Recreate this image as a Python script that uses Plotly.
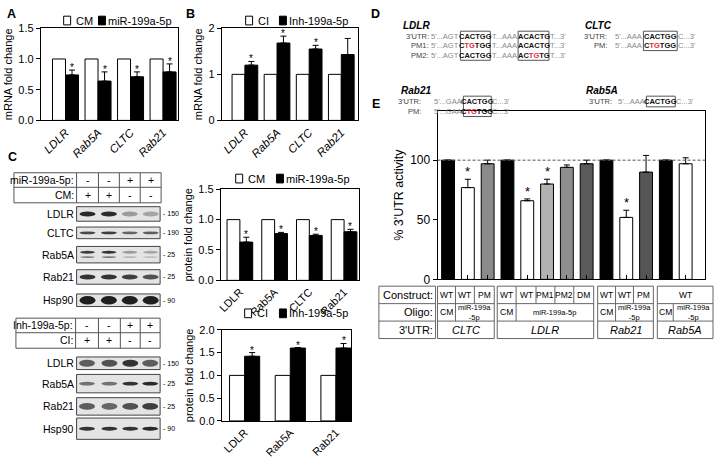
import plotly.graph_objects as go

W, H = 715, 459
FONT = "Liberation Sans, Arial, Helvetica, sans-serif"


def X(p):
    return p / W


def Y(p):
    return 1 - p / H


# ---------------- data ----------------
mrna_genes = ["LDLR", "Rab5A", "CLTC", "Rab21"]
mrna_cm = [1.0, 1.0, 1.0, 1.0]
mrna_mir = [0.74, 0.64, 0.71, 0.79]
mrna_mir_err = [0.08, 0.15, 0.08, 0.13]
mrna_mir_sig = [1, 1, 1, 1]

mrna_ci = [1.0, 1.0, 1.0, 1.0]
mrna_inh = [1.20, 1.68, 1.55, 1.43]
mrna_inh_err = [0.08, 0.15, 0.08, 0.35]
mrna_inh_sig = [1, 1, 1, 0]

prot_genes_mir = ["LDLR", "Rab5A", "CLTC", "Rab21"]
prot_cm = [1.0, 1.0, 1.0, 1.0]
prot_mir = [0.63, 0.77, 0.74, 0.80]
prot_mir_err = [0.08, 0.02, 0.02, 0.04]
prot_mir_sig = [1, 1, 1, 1]

prot_genes_inh = ["LDLR", "Rab5A", "Rab21"]
prot_ci = [1.0, 1.0, 1.0]
prot_inh = [1.42, 1.60, 1.60]
prot_inh_err = [0.08, 0.01, 0.10]
prot_inh_sig = [1, 1, 1]

utr_construct = ["WT", "WT", "PM", "WT", "WT", "PM1", "PM2", "DM", "WT", "WT", "PM", "WT", "WT"]
utr_values = [100, 77, 97, 100, 66, 80, 94, 97, 100, 52, 90, 100, 97]
utr_err = [0, 7, 3, 0, 1.5, 4, 2, 3, 0, 6, 14, 0, 5]
utr_sig = [0, 1, 0, 0, 1, 1, 0, 0, 0, 1, 0, 0, 0]
utr_colors = ["black", "white", "#8a8a8a", "black", "white", "#b2b2b2", "#8e8e8e",
              "#5a5a5a", "black", "white", "#555555", "black", "white"]

fig = go.Figure()
annotations = []
shapes = []


def star(xref, yref, x, y, size, yshift):
    annotations.append(dict(x=x, y=y, xref=xref, yref=yref, text="*", showarrow=False,
                            font=dict(family=FONT, size=size, color="black"),
                            xanchor="center", yanchor="bottom", yshift=yshift, borderpad=0))


def pair_bars(ax, genes, ctrl, treat, err, sig, w):
    idx = list(range(len(genes)))
    xa, ya = "x" + ax, "y" + ax
    fig.add_trace(go.Bar(x=idx, y=ctrl, width=w, offset=-w,
                         marker=dict(color="white", line=dict(color="black", width=1)),
                         xaxis=xa, yaxis=ya, showlegend=False, hoverinfo="skip"))
    fig.add_trace(go.Bar(x=idx, y=treat, width=w, offset=0,
                         marker=dict(color="black", line=dict(color="black", width=1)),
                         error_y=dict(type="data", array=err, arrayminus=[0] * len(err),
                                      symmetric=False, color="black", thickness=1, width=3),
                         xaxis=xa, yaxis=ya, showlegend=False, hoverinfo="skip"))
    for i, t, e, s in zip(idx, treat, err, sig):
        if s:
            star(xa, ya, i + w / 2, t + e, 10, -4)


pair_bars("", mrna_genes, mrna_cm, mrna_mir, mrna_mir_err, mrna_mir_sig, 0.40)
pair_bars("2", mrna_genes, mrna_ci, mrna_inh, mrna_inh_err, mrna_inh_sig, 0.40)
pair_bars("3", prot_genes_mir, prot_cm, prot_mir, prot_mir_err, prot_mir_sig, 0.37)
pair_bars("4", prot_genes_inh, prot_ci, prot_inh, prot_inh_err, prot_inh_sig, 0.33)

# panel E bars
utr_idx = list(range(len(utr_values)))
fig.add_trace(go.Bar(x=utr_idx, y=utr_values, width=0.65,
                     marker=dict(color=utr_colors, line=dict(color="black", width=1)),
                     error_y=dict(type="data", array=utr_err, arrayminus=[0] * len(utr_err),
                                  symmetric=False, color="black", thickness=1, width=3),
                     xaxis="x5", yaxis="y5", showlegend=False, hoverinfo="skip"))
for i, v, e, s in zip(utr_idx, utr_values, utr_err, utr_sig):
    if s:
        star("x5", "y5", i, v + e, 13, -1)


# ---------------- axes ----------------
def yax(top, bot, rng, tickvals, ticktext, anchor, title, tsize=11, tfs=11):
    return dict(domain=[Y(bot), Y(top)], range=rng, anchor=anchor,
                tickmode="array", tickvals=tickvals, ticktext=ticktext,
                showline=True, linecolor="black", linewidth=1, mirror=True,
                ticks="outside", ticklen=4, tickcolor="black", tickwidth=1,
                showgrid=False, zeroline=False,
                tickfont=dict(family=FONT, size=tsize, color="black"),
                title=dict(text=title, font=dict(family=FONT, size=tfs, color="black"), standoff=3),
                fixedrange=True)


def xax(left, right, rng, labels, anchor, italic=False, show=True, ticks="", size=11):
    tt = [("<i>%s</i>" % l) if italic else l for l in labels]
    return dict(domain=[X(left), X(right)], range=rng, anchor=anchor,
                tickmode="array", tickvals=list(range(len(labels))), ticktext=tt,
                tickangle=-45, showticklabels=show,
                showline=True, linecolor="black", linewidth=1, mirror=True,
                ticks=ticks, ticklen=4, tickcolor="black",
                showgrid=False, zeroline=False,
                tickfont=dict(family=FONT, size=size, color="black"),
                fixedrange=True)


layout = dict(
    width=W, height=H, autosize=False,
    margin=dict(l=0, r=0, t=0, b=0),
    paper_bgcolor="white", plot_bgcolor="rgba(0,0,0,0)",
    barmode="overlay", showlegend=False,
    font=dict(family=FONT, color="black"),
    xaxis=xax(37, 175, [-0.76, 3.46], mrna_genes, "y", italic=True, size=11.5),
    yaxis=yax(23, 118, [0, 1.5], [0, 0.5, 1.0, 1.5], ["0.0", "0.5", "1.0", "1.5"], "x", "mRNA fold change"),
    xaxis2=xax(219, 356, [-0.72, 3.52], mrna_genes, "y2", italic=True, size=11.5),
    yaxis2=yax(23, 118, [0, 2], [0, 1, 2], ["0", "1", "2"], "x2", "mRNA fold change"),
    xaxis3=xax(218, 357, [-0.55, 3.43], prot_genes_mir, "y3"),
    yaxis3=yax(189, 283, [0, 1.5], [0, 0.5, 1.0, 1.5], ["0.0", "0.5", "1.0", "1.5"], "x3", "protein fold change"),
    xaxis4=xax(219, 349, [-0.5, 2.33], prot_genes_inh, "y4"),
    yaxis4=yax(334, 428, [0, 2], [0, 0.5, 1.0, 1.5, 2.0], ["0.0", "0.5", "1.0", "1.5", "2.0"], "x4", "protein fold change"),
    xaxis5=xax(436, 705, [-0.53, 12.98], utr_construct, "y5", show=False, ticks="inside"),
    yaxis5=yax(108, 282, [0, 141.5], [0, 50, 100], ["0", "50", "100"], "x5", "% 3'UTR activity", tsize=12, tfs=12.5),
)


def txt(x, y, s, size=10, color="black", xanchor="center", yanchor="middle", angle=0):
    annotations.append(dict(x=X(x), y=Y(y), xref="paper", yref="paper", text=s, showarrow=False,
                            font=dict(family=FONT, size=size, color=color),
                            xanchor=xanchor, yanchor=yanchor, textangle=angle, borderpad=0))


def rect(x0, y0, x1, y1, line="#666666", fill="rgba(0,0,0,0)", width=1, layer="above"):
    shapes.append(dict(type="rect", xref="paper", yref="paper", x0=X(x0), x1=X(x1), y0=Y(y1), y1=Y(y0),
                       line=dict(color=line, width=width), fillcolor=fill, layer=layer))


def hline(x0, x1, y, color="#666666", width=1):
    shapes.append(dict(type="line", xref="paper", yref="paper", x0=X(x0), x1=X(x1), y0=Y(y), y1=Y(y),
                       line=dict(color=color, width=width)))


def vline(x, y0, y1, color="#666666", width=1):
    shapes.append(dict(type="line", xref="paper", yref="paper", x0=X(x), x1=X(x), y0=Y(y0), y1=Y(y1),
                       line=dict(color=color, width=width)))


def ellipse(cx, cy, w, h, color):
    shapes.append(dict(type="circle", xref="paper", yref="paper", x0=X(cx - w / 2), x1=X(cx + w / 2),
                       y0=Y(cy + h / 2), y1=Y(cy - h / 2), line=dict(width=0), fillcolor=color))


# dashed 100% line in E
shapes.append(dict(type="line", xref="x5 domain", yref="y5", x0=0, x1=1, y0=100, y1=100,
                   line=dict(color="#555555", width=1, dash="3px,2px")))

# ---------------- panel letters ----------------
for lt, x, y in [("A", 8, 8), ("B", 188, 8), ("C", 9, 156), ("D", 374, 8), ("E", 374, 101)]:
    txt(x, y, "<b>%s</b>" % lt, size=12.5)


# ---------------- legends ----------------
def legend(y, bx1, lab1, bx2, lab2):
    rect(bx1, y - 4.5, bx1 + 7, y + 4.5, line="black", fill="white")
    txt(bx1 + 11, y, lab1, size=11, xanchor="left")
    rect(bx2, y - 4.5, bx2 + 7, y + 4.5, line="black", fill="black")
    txt(bx2 + 9, y, lab2, size=11, xanchor="left")


legend(15, 60, "CM", 95, "miR-199a-5p")
legend(15, 243, "CI", 277, "Inh-199a-5p")
legend(178, 233, "CM", 274, "miR-199a-5p")
legend(317, 242, "CI", 277, "Inh-199a-5p")


# ---------------- panel C blots ----------------
def cond_table(x0, x1, ylines, cols, lab1, row1, lab2, row2):
    rect(x0, ylines[0], x1, ylines[2], line="#555555")
    hline(x0, x1, ylines[1], color="#555555")
    for c in cols[:-1]:
        vline(c, ylines[0], ylines[2], color="#555555")
    centers = [(a + b) / 2 for a, b in zip(cols[:-1], cols[1:])]
    ym1 = (ylines[0] + ylines[1]) / 2
    ym2 = (ylines[1] + ylines[2]) / 2
    txt(cols[0] - 2, ym1, lab1, size=10.5, xanchor="right")
    txt(cols[0] - 2, ym2, lab2, size=10.5, xanchor="right")
    for c, s in zip(centers, row1):
        txt(c, ym1, s, size=10.5)
    for c, s in zip(centers, row2):
        txt(c, ym2, s, size=10.5)
    return centers


top_centers = cond_table(10, 158, [172, 187, 203], [73, 95, 116, 137, 158],
                         "miR-199a-5p:", ["-", "-", "+", "+"], "CM:", ["+", "+", "-", "-"])
bot_centers = cond_table(12, 157, [322, 337, 353], [72, 95, 117, 137, 157],
                         "Inh-199a-5p:", ["-", "-", "+", "+"], "CI:", ["+", "+", "-", "-"])

blots_top = [
    ("LDLR", 207, 222, [0.9, 0.9, 0.35, 0.3], 5, "150", 1),
    ("CLTC", 228, 240, [0.75, 0.8, 0.6, 0.65], 3, "190", 1),
    ("Rab5A", 248, 265, [0.8, 0.85, 0.35, 0.3], 3, "25", 2),
    ("Rab21", 272, 287, [0.85, 0.85, 0.8, 0.7], 5, "25", 1),
    ("Hsp90", 297, 310, [0.95, 0.95, 0.95, 0.95], 9, "90", 1),
]
blots_bot = [
    ("LDLR", 362, 375, [0.65, 0.7, 0.85, 0.65], 7, "150", 1),
    ("Rab5A", 380, 399, [0.55, 0.55, 0.85, 0.9], 4, "25", 1),
    ("Rab21", 404, 422, [0.65, 0.6, 0.7, 0.8], 7, "25", 1),
    ("Hsp90", 425, 447, [0.85, 0.85, 0.85, 0.9], 4, "90", 1),
]


def draw_blots(blots, centers, bx0, bx1):
    for name, y0, y1, ints, bh, mw, nb in blots:
        rect(bx0, y0, bx1, y1, line="#444444", fill="#e4e4e4", layer="below")
        cy = (y0 + y1) / 2
        for c, a in zip(centers, ints):
            if nb == 2:
                ellipse(c, cy - 2.5, 15, bh, "rgba(20,20,20,%.2f)" % a)
                ellipse(c, cy + 2.5, 15, bh - 1, "rgba(20,20,20,%.2f)" % (a * 0.6))
            else:
                ellipse(c, cy, 16, bh, "rgba(20,20,20,%.2f)" % a)
        txt(bx0 - 2, cy, name, size=10.5, xanchor="right")
        txt(bx1 + 2, cy, "- " + mw, size=7, xanchor="left")


draw_blots(blots_top, top_centers, 73, 157)
draw_blots(blots_bot, bot_centers, 73, 157)

# ---------------- panel D sequences ----------------
GRAY = "#8a8a8a"
RED = "#e0303a"


def red(s):
    return "<span style='color:%s'>%s</span>" % (RED, s)


def seq_rows(title, tx, ty, rows, boxes):
    txt(tx, ty, "<b><i>%s</i></b>" % title, size=10, xanchor="left")
    for y, label, lab_x, pieces in rows:
        txt(lab_x, y, label, size=7.5, color="#444444", xanchor="right")
        for s, x0, x1, kind in pieces:
            if kind == "L":
                txt(x1, y, s, size=7.5, color=GRAY, xanchor="right")
            elif kind == "R":
                txt(x0, y, s, size=7.5, color=GRAY, xanchor="left")
            elif kind == "M":
                txt((x0 + x1) / 2, y, s, size=7.5, color=GRAY)
            else:
                txt((x0 + x1) / 2, y, "<b>%s</b>" % s, size=7.5, color="#111111")
    for bx0, by0, bx1, by1 in boxes:
        rect(bx0, by0, bx1, by1, line="#555555")


seq_rows("LDLR", 400, 20, [
    (31, "3'UTR:", 428, [("5'...AGT", 430, 459, "L"), ("CACTGG", 459, 489, "B"),
                         ("T...AAA", 489, 517, "M"), ("ACACTG", 517, 548, "B"), ("T...3'", 548, 568, "R")]),
    (41, "PM1:", 428, [("5'...AGT", 430, 459, "L"), ("C" + red("TG") + "TGG", 459, 489, "B"),
                       ("T...AAA", 489, 517, "M"), ("ACACTG", 517, 548, "B"), ("T...3'", 548, 568, "R")]),
    (51, "PM2:", 428, [("5'...AGT", 430, 459, "L"), ("CACTGG", 459, 489, "B"),
                       ("T...AAA", 489, 517, "M"), ("AC" + red("TG") + "TG", 517, 548, "B"), ("T...3'", 548, 568, "R")]),
], [(459, 26, 489, 56), (517, 26, 548, 56)])

seq_rows("CLTC", 583, 20, [
    (31, "3'UTR:", 607, [("5'...AAA", 608, 643, "L"), ("CACTGG", 643, 677, "B"), ("C...3'", 677, 697, "R")]),
    (41, "PM:", 607, [("5'...AAA", 608, 643, "L"), ("C" + red("TG") + "TGG", 643, 677, "B"), ("C...3'", 677, 697, "R")]),
], [(643, 26, 677, 46)])

seq_rows("Rab21", 398, 87, [
    (99, "3'UTR:", 420, [("5'...GAA", 422, 462, "L"), ("CACTGG", 462, 490, "B"), ("C...3'", 490, 510, "R")]),
    (109, "PM:", 420, [("5'...GAA", 422, 462, "L"), ("C" + red("TG") + "TGG", 462, 490, "B"), ("C...3'", 490, 510, "R")]),
], [(462, 93, 490, 114)])

seq_rows("Rab5A", 584, 87, [
    (99, "3'UTR:", 612, [("5'...AAA", 614, 646, "L"), ("CACTGG", 646, 675, "B"), ("C...3'", 675, 695, "R")]),
], [(646, 93, 675, 104)])

# ---------------- panel E table ----------------
T_ROWS = [289, 307, 325, 343]
groups = [
    (436, 493, [436, 454, 473, 493], [(436, 454, "CM"), (454, 493, "miR-199a<br>-5p")], "CLTC"),
    (496, 593, [496, 515, 535, 554, 573, 593], [(496, 515, "CM"), (515, 593, "miR-199a-5p")], "LDLR"),
    (597, 653, [597, 615, 633, 653], [(597, 615, "CM"), (615, 653, "miR-199a<br>-5p")], "Rab21"),
    (657, 713, [657, 713], [(657, 673, "CM"), (673, 713, "miR-199a<br>-5p")], "Rab5A"),
]
rect(377, T_ROWS[0], 434, T_ROWS[3], line="#666666")
hline(377, 434, T_ROWS[1])
hline(377, 434, T_ROWS[2])
for lab, r in zip(["Construct:", "Oligo:", "3'UTR:"], range(3)):
    txt(432, (T_ROWS[r] + T_ROWS[r + 1]) / 2, lab, size=11, xanchor="right")

k = 0
for gx0, gx1, cb, oligo, name in groups:
    rect(gx0, T_ROWS[0], gx1, T_ROWS[3], line="#666666")
    hline(gx0, gx1, T_ROWS[1])
    hline(gx0, gx1, T_ROWS[2])
    ym = (T_ROWS[0] + T_ROWS[1]) / 2
    for b in cb[1:-1]:
        vline(b, T_ROWS[0], T_ROWS[1])
    ncell = len(cb) - 1
    for a, b in zip(cb[:-1], cb[1:]):
        txt((a + b) / 2, ym, utr_construct[k], size=8.5)
        k += 1
    if ncell == 1:
        k += 1
    ym2 = (T_ROWS[1] + T_ROWS[2]) / 2
    for a, b, s in oligo[:-1]:
        vline(b, T_ROWS[1], T_ROWS[2])
    for a, b, s in oligo:
        txt((a + b) / 2, ym2, s, size=8.5 if s == "CM" else 7.5)
    txt((gx0 + gx1) / 2, (T_ROWS[2] + T_ROWS[3]) / 2, "<i>%s</i>" % name, size=11)

layout["shapes"] = shapes
layout["annotations"] = annotations
fig.update_layout(**layout)

fig.write_html("out.html", include_plotlyjs=True, config={"displayModeBar": False},
               post_script="document.body.style.margin='0px';")
